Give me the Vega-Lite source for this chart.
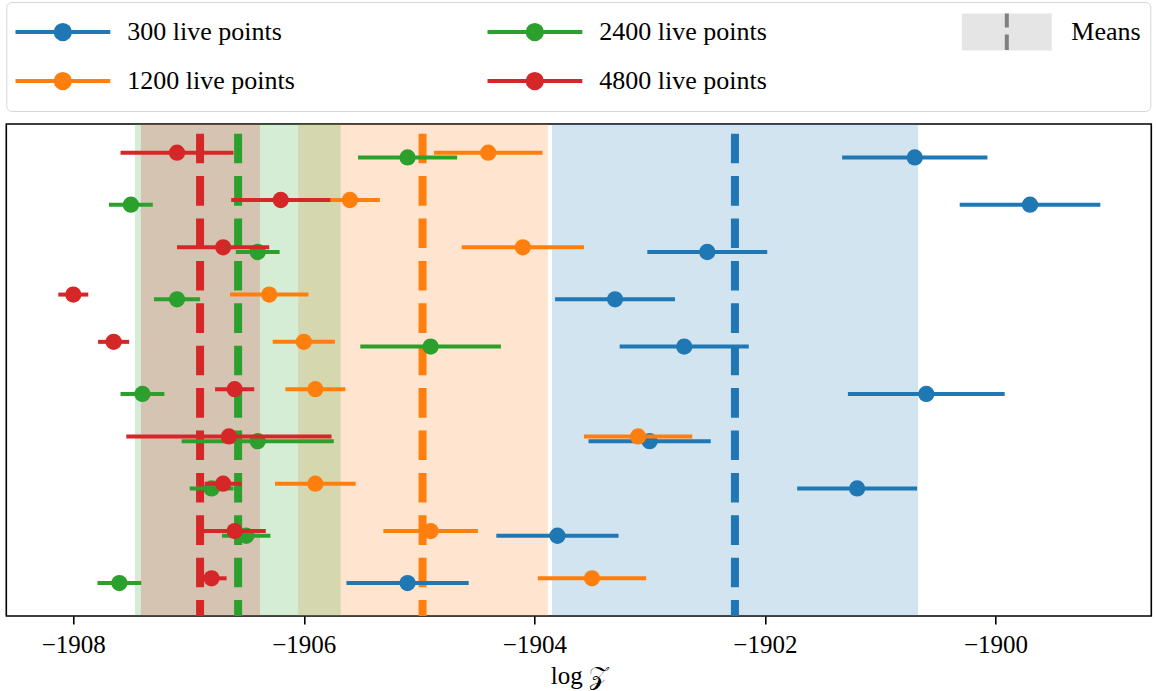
{
  "$schema": "https://vega.github.io/schema/vega-lite/v6.json",
  "width": 1145,
  "height": 492,
  "autosize": {"type": "none"},
  "padding": {"left": 6.3, "top": 124, "right": 4.7, "bottom": 75},
  "background": "white",
  "config": {
    "view": {"stroke": "black", "strokeWidth": 1.6},
    "font": "Liberation Serif"
  },
  "datasets": {
    "runs": [
      {"series": "300 live points", "y": 0.1, "value": -1900.70, "lo": -1901.33, "hi": -1900.07},
      {"series": "300 live points", "y": 1.1, "value": -1899.70, "lo": -1900.31, "hi": -1899.09},
      {"series": "300 live points", "y": 2.1, "value": -1902.50, "lo": -1903.02, "hi": -1901.98},
      {"series": "300 live points", "y": 3.1, "value": -1903.30, "lo": -1903.82, "hi": -1902.78},
      {"series": "300 live points", "y": 4.1, "value": -1902.70, "lo": -1903.26, "hi": -1902.14},
      {"series": "300 live points", "y": 5.1, "value": -1900.60, "lo": -1901.28, "hi": -1899.92},
      {"series": "300 live points", "y": 6.1, "value": -1903.00, "lo": -1903.53, "hi": -1902.47},
      {"series": "300 live points", "y": 7.1, "value": -1901.20, "lo": -1901.72, "hi": -1900.68},
      {"series": "300 live points", "y": 8.1, "value": -1903.80, "lo": -1904.33, "hi": -1903.27},
      {"series": "300 live points", "y": 9.1, "value": -1905.10, "lo": -1905.63, "hi": -1904.57},
      {"series": "1200 live points", "y": 0, "value": -1904.40, "lo": -1904.87, "hi": -1903.93},
      {"series": "1200 live points", "y": 1, "value": -1905.60, "lo": -1905.86, "hi": -1905.34},
      {"series": "1200 live points", "y": 2, "value": -1904.10, "lo": -1904.63, "hi": -1903.57},
      {"series": "1200 live points", "y": 3, "value": -1906.30, "lo": -1906.64, "hi": -1905.96},
      {"series": "1200 live points", "y": 4, "value": -1906.00, "lo": -1906.27, "hi": -1905.73},
      {"series": "1200 live points", "y": 5, "value": -1905.90, "lo": -1906.16, "hi": -1905.64},
      {"series": "1200 live points", "y": 6, "value": -1903.10, "lo": -1903.57, "hi": -1902.63},
      {"series": "1200 live points", "y": 7, "value": -1905.90, "lo": -1906.25, "hi": -1905.55},
      {"series": "1200 live points", "y": 8, "value": -1904.90, "lo": -1905.31, "hi": -1904.49},
      {"series": "1200 live points", "y": 9, "value": -1903.50, "lo": -1903.97, "hi": -1903.03},
      {"series": "2400 live points", "y": 0.1, "value": -1905.10, "lo": -1905.53, "hi": -1904.67},
      {"series": "2400 live points", "y": 1.1, "value": -1907.50, "lo": -1907.69, "hi": -1907.31},
      {"series": "2400 live points", "y": 2.1, "value": -1906.40, "lo": -1906.59, "hi": -1906.21},
      {"series": "2400 live points", "y": 3.1, "value": -1907.10, "lo": -1907.30, "hi": -1906.90},
      {"series": "2400 live points", "y": 4.1, "value": -1904.90, "lo": -1905.51, "hi": -1904.29},
      {"series": "2400 live points", "y": 5.1, "value": -1907.40, "lo": -1907.59, "hi": -1907.21},
      {"series": "2400 live points", "y": 6.1, "value": -1906.40, "lo": -1907.06, "hi": -1905.74},
      {"series": "2400 live points", "y": 7.1, "value": -1906.80, "lo": -1906.99, "hi": -1906.61},
      {"series": "2400 live points", "y": 8.1, "value": -1906.50, "lo": -1906.71, "hi": -1906.29},
      {"series": "2400 live points", "y": 9.1, "value": -1907.60, "lo": -1907.79, "hi": -1907.41},
      {"series": "4800 live points", "y": 0, "value": -1907.10, "lo": -1907.59, "hi": -1906.61},
      {"series": "4800 live points", "y": 1, "value": -1906.20, "lo": -1906.63, "hi": -1905.77},
      {"series": "4800 live points", "y": 2, "value": -1906.70, "lo": -1907.10, "hi": -1906.30},
      {"series": "4800 live points", "y": 3, "value": -1908.00, "lo": -1908.13, "hi": -1907.87},
      {"series": "4800 live points", "y": 4, "value": -1907.65, "lo": -1907.785, "hi": -1907.515},
      {"series": "4800 live points", "y": 5, "value": -1906.60, "lo": -1906.77, "hi": -1906.43},
      {"series": "4800 live points", "y": 6, "value": -1906.65, "lo": -1907.54, "hi": -1905.76},
      {"series": "4800 live points", "y": 7, "value": -1906.70, "lo": -1906.86, "hi": -1906.54},
      {"series": "4800 live points", "y": 8, "value": -1906.60, "lo": -1906.87, "hi": -1906.33},
      {"series": "4800 live points", "y": 9, "value": -1906.80, "lo": -1906.93, "hi": -1906.67}
    ],
    "means": [
      {"series": "300 live points", "mean": -1902.26, "lo": -1903.847, "hi": -1900.671},
      {"series": "1200 live points", "mean": -1904.97, "lo": -1906.049, "hi": -1903.883},
      {"series": "2400 live points", "mean": -1906.57, "lo": -1907.465, "hi": -1905.680},
      {"series": "4800 live points", "mean": -1906.90, "lo": -1907.413, "hi": -1906.380}
    ]
  },
  "encoding": {
    "color": {
      "field": "series",
      "type": "nominal",
      "scale": {
        "domain": ["300 live points", "1200 live points", "2400 live points", "4800 live points", "Means"],
        "range": ["#1f77b4", "#ff7f0e", "#2ca02c", "#d62728", "#7f7f7f"]
      },
      "legend": {
        "orient": "none",
        "direction": "vertical",
        "legendX": 0,
        "legendY": -122,
        "title": null,
        "columns": 3,
        "columnPadding": 192,
        "rowPadding": 7,
        "gridAlign": "each",
        "clipHeight": 42,
        "symbolSize": 9025,
        "symbolStrokeWidth": 4,
        "symbolOffset": -2,
        "symbolType": "circle",
        "labelOffset": 15,
        "labelFont": "Liberation Serif",
        "labelFontSize": 26,
        "labelColor": "black",
        "labelLimit": 400,
        "padding": 9,
        "fillColor": "white",
        "strokeColor": "#d6d6d6",
        "cornerRadius": 5,
        "encode": {
          "symbols": {
            "update": {
              "shape": {"signal": "datum.value === 'Means' ? 'M0,-0.39L0,0.39L-0.947,0.39L-0.947,-0.39L0.947,-0.39L0.947,0.39L0,0.39Z' : 'M-1,0L1,0M0.15,0A0.15,0.15,0,1,1,-0.15,0A0.15,0.15,0,1,1,0.15,0Z'"},
              "fill": {"signal": "scale('color', datum.value)"},
              "stroke": {"signal": "scale('color', datum.value)"},
              "fillOpacity": {"signal": "datum.value === 'Means' ? 0.2 : 1"},
              "strokeOpacity": {"value": 1},
              "opacity": {"value": 1},
              "strokeDash": {"signal": "datum.value === 'Means' ? [14, 7, 15.5, 3000] : null"}
            }
          }
        }
      }
    }
  },
  "layer": [
    {
      "data": {"name": "means"},
      "mark": {"type": "rect", "opacity": 0.2},
      "encoding": {
        "x": {
          "field": "lo", "type": "quantitative",
          "scale": {"domain": [-1908.581, -1898.648], "nice": false, "zero": false},
          "axis": {
            "title": "log 𝒵",
            "values": [-1908, -1906, -1904, -1902, -1900],
            "format": "d",
            "domain": false,
            "grid": false,
            "ticks": true,
            "tickColor": "black",
            "tickWidth": 1.6,
            "tickSize": 8,
            "labelFont": "Liberation Serif",
            "labelFontSize": 25,
            "labelColor": "black",
            "labelPadding": 8,
            "titleFont": "Liberation Serif",
            "titleFontSize": 25,
            "titleFontWeight": "normal",
            "titleColor": "black",
            "titlePadding": 6
          }
        },
        "x2": {"field": "hi"}
      }
    },
    {
      "data": {"name": "means"},
      "mark": {"type": "rule", "strokeWidth": 8, "strokeDash": [29.6, 12.8], "strokeDashOffset": 32.7},
      "encoding": {
        "x": {"field": "mean", "type": "quantitative", "title": "log 𝒵",
              "scale": {"domain": [-1908.581, -1898.648], "nice": false, "zero": false}}
      }
    },
    {
      "data": {"name": "runs"},
      "transform": [{"filter": "datum.series === '300 live points'"}],
      "mark": {"type": "rule", "strokeWidth": 4},
      "encoding": {
        "x": {"field": "lo", "type": "quantitative", "title": "log 𝒵",
              "scale": {"domain": [-1908.581, -1898.648], "nice": false, "zero": false}},
        "x2": {"field": "hi"},
        "y": {"field": "y", "type": "quantitative", "axis": null,
              "scale": {"domain": [-0.607, 9.797], "reverse": true, "nice": false, "zero": false}}
      }
    },
    {
      "data": {"name": "runs"},
      "transform": [{"filter": "datum.series === '300 live points'"}],
      "mark": {"type": "circle", "size": 265, "opacity": 1},
      "encoding": {
        "x": {"field": "value", "type": "quantitative", "title": "log 𝒵",
              "scale": {"domain": [-1908.581, -1898.648], "nice": false, "zero": false}},
        "y": {"field": "y", "type": "quantitative", "axis": null,
              "scale": {"domain": [-0.607, 9.797], "reverse": true, "nice": false, "zero": false}}
      }
    },
    {
      "data": {"name": "runs"},
      "transform": [{"filter": "datum.series === '1200 live points'"}],
      "mark": {"type": "rule", "strokeWidth": 4},
      "encoding": {
        "x": {"field": "lo", "type": "quantitative", "title": "log 𝒵",
              "scale": {"domain": [-1908.581, -1898.648], "nice": false, "zero": false}},
        "x2": {"field": "hi"},
        "y": {"field": "y", "type": "quantitative", "axis": null,
              "scale": {"domain": [-0.607, 9.797], "reverse": true, "nice": false, "zero": false}}
      }
    },
    {
      "data": {"name": "runs"},
      "transform": [{"filter": "datum.series === '1200 live points'"}],
      "mark": {"type": "circle", "size": 265, "opacity": 1},
      "encoding": {
        "x": {"field": "value", "type": "quantitative", "title": "log 𝒵",
              "scale": {"domain": [-1908.581, -1898.648], "nice": false, "zero": false}},
        "y": {"field": "y", "type": "quantitative", "axis": null,
              "scale": {"domain": [-0.607, 9.797], "reverse": true, "nice": false, "zero": false}}
      }
    },
    {
      "data": {"name": "runs"},
      "transform": [{"filter": "datum.series === '2400 live points'"}],
      "mark": {"type": "rule", "strokeWidth": 4},
      "encoding": {
        "x": {"field": "lo", "type": "quantitative", "title": "log 𝒵",
              "scale": {"domain": [-1908.581, -1898.648], "nice": false, "zero": false}},
        "x2": {"field": "hi"},
        "y": {"field": "y", "type": "quantitative", "axis": null,
              "scale": {"domain": [-0.607, 9.797], "reverse": true, "nice": false, "zero": false}}
      }
    },
    {
      "data": {"name": "runs"},
      "transform": [{"filter": "datum.series === '2400 live points'"}],
      "mark": {"type": "circle", "size": 265, "opacity": 1},
      "encoding": {
        "x": {"field": "value", "type": "quantitative", "title": "log 𝒵",
              "scale": {"domain": [-1908.581, -1898.648], "nice": false, "zero": false}},
        "y": {"field": "y", "type": "quantitative", "axis": null,
              "scale": {"domain": [-0.607, 9.797], "reverse": true, "nice": false, "zero": false}}
      }
    },
    {
      "data": {"name": "runs"},
      "transform": [{"filter": "datum.series === '4800 live points'"}],
      "mark": {"type": "rule", "strokeWidth": 4},
      "encoding": {
        "x": {"field": "lo", "type": "quantitative", "title": "log 𝒵",
              "scale": {"domain": [-1908.581, -1898.648], "nice": false, "zero": false}},
        "x2": {"field": "hi"},
        "y": {"field": "y", "type": "quantitative", "axis": null,
              "scale": {"domain": [-0.607, 9.797], "reverse": true, "nice": false, "zero": false}}
      }
    },
    {
      "data": {"name": "runs"},
      "transform": [{"filter": "datum.series === '4800 live points'"}],
      "mark": {"type": "circle", "size": 265, "opacity": 1},
      "encoding": {
        "x": {"field": "value", "type": "quantitative", "title": "log 𝒵",
              "scale": {"domain": [-1908.581, -1898.648], "nice": false, "zero": false}},
        "y": {"field": "y", "type": "quantitative", "axis": null,
              "scale": {"domain": [-0.607, 9.797], "reverse": true, "nice": false, "zero": false}}
      }
    }
  ]
}
